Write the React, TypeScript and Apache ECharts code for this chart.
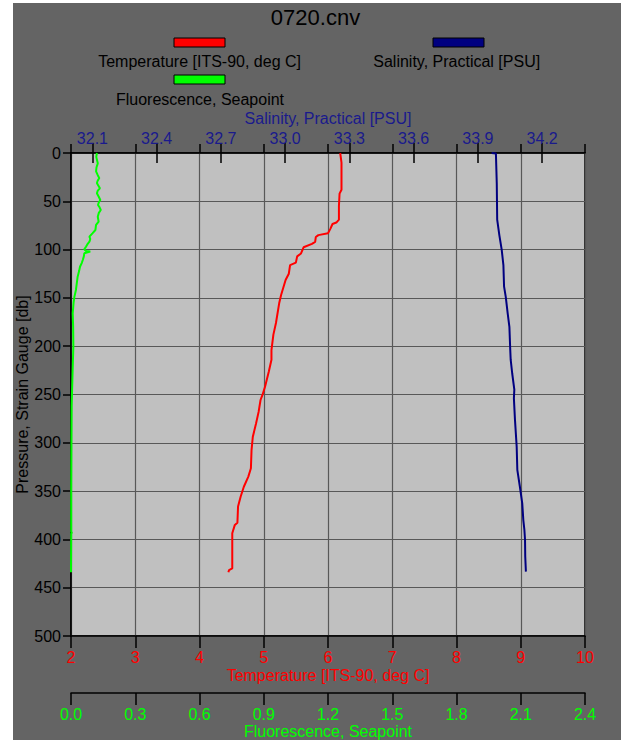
import React, { useEffect, useRef } from "react";
import * as echarts from "echarts";

const titleText = "0720.cnv";
const tempName = "Temperature [ITS-90, deg C]";
const salName = "Salinity, Practical [PSU]";
const fluorName = "Fluorescence, Seapoint";
const pressureName = "Pressure, Strain Gauge [db]";

const salTicks = [32.1, 32.4, 32.7, 33.0, 33.3, 33.6, 33.9, 34.2];

const tempPressure = [0, 10, 18, 38, 42, 55, 69, 72, 73.5, 78, 83, 85, 87, 92, 94, 97.6, 104, 107, 113.5, 116, 125, 131.5, 147, 155.6, 176, 188, 204, 214, 226, 242, 250.5, 255.7, 268, 280, 293.7, 307.5, 326.4, 335, 345.5, 355.8, 366, 382.7, 385, 393.7, 407.5, 430, 431.7, 434];
const tempValues = [6.19, 6.21, 6.21, 6.21, 6.18, 6.17, 6.17, 6.13, 6.07, 6.04, 6.0, 5.85, 5.81, 5.8, 5.75, 5.62, 5.58, 5.52, 5.5, 5.41, 5.39, 5.34, 5.27, 5.24, 5.19, 5.15, 5.12, 5.12, 5.08, 5.02, 4.98, 4.95, 4.92, 4.88, 4.83, 4.81, 4.8, 4.76, 4.69, 4.64, 4.6, 4.59, 4.55, 4.51, 4.51, 4.51, 4.46, 4.45];

const salPressure = [0, 0.5, 31, 69, 85, 100, 116, 138, 149, 166, 180, 204, 214, 228, 245, 254, 276, 304, 328, 345.5, 362.6, 380, 390, 400.6, 418, 433.4];
const salValues = [33.964, 33.984, 33.988, 33.99, 34.0, 34.011, 34.019, 34.022, 34.03, 34.039, 34.047, 34.051, 34.053, 34.06, 34.07, 34.068, 34.073, 34.081, 34.084, 34.096, 34.107, 34.112, 34.117, 34.12, 34.121, 34.124];

const fluorPressure = [0, 4, 10.7, 15, 19, 23, 26, 29, 31, 34, 36.6, 39, 41.7, 45, 48.7, 51, 53.8, 56, 59, 62, 66, 71, 74.5, 79.7, 83, 86.6, 89, 91.8, 94, 97, 99.7, 101.5, 102, 103.8, 107, 110.8, 114, 117.7, 122, 128, 135, 141.8, 148.7, 155, 166, 180, 200, 230, 262, 300, 350, 392, 393, 394, 434];
const fluorValues = [0.121, 0.118, 0.125, 0.119, 0.117, 0.125, 0.132, 0.124, 0.121, 0.128, 0.135, 0.125, 0.121, 0.129, 0.137, 0.13, 0.126, 0.133, 0.139, 0.13, 0.125, 0.129, 0.117, 0.114, 0.101, 0.086, 0.09, 0.086, 0.078, 0.07, 0.062, 0.07, 0.09, 0.062, 0.06, 0.055, 0.05, 0.042, 0.038, 0.031, 0.027, 0.023, 0.016, 0.012, 0.008, 0.01, 0.011, 0.007, 0.003, 0.002, 0.001, 0.001, 0.004, 0.001, 0.0];

const RED = "#ff0000";
const GREEN = "#00ff00";
const NAVY = "#000080";
const NAVY_TEXT = "#1a1a8c";
const GRIDLINE = "#585858";
const FONT = "'Liberation Sans', Arial, sans-serif";
const OX = 13;
const OY = 3;

export default function App() {
  const ref = useRef<HTMLDivElement>(null);
  useEffect(() => {
    if (!ref.current) return;
    const chart = echarts.init(ref.current, undefined, { renderer: "svg" });
    const pair = (xs: number[], ps: number[]) => xs.map((v, i) => [v, ps[i]]);
    const axisLine = { show: true, onZero: false, lineStyle: { color: "#000", width: 1.5 } };
    const tickStyle = { color: "#000", width: 1.5 };
    const option: any = {
      animation: false,
      backgroundColor: "#646464",
      textStyle: { fontFamily: FONT },
      grid: {
        left: 71 - OX,
        top: 153 - OY,
        width: 514,
        height: 483,
        containLabel: false,
        outerBoundsMode: "none",
        show: true,
        backgroundColor: "#c0c0c0",
        borderColor: "#000",
        borderWidth: 1.5,
      },
      xAxis: [
        {
          type: "value",
          position: "bottom",
          min: 2,
          max: 10,
          interval: 1,
          axisLine,
          axisTick: { show: true, inside: false, length: 12, lineStyle: tickStyle },
          axisLabel: { color: RED, fontSize: 16, margin: 13, fontFamily: FONT },
          splitLine: { show: true, lineStyle: { color: GRIDLINE, width: 1.2 } },
          name: tempName,
          nameLocation: "middle",
          nameGap: 31,
          nameMoveOverlap: false,
          nameTextStyle: { color: RED, fontSize: 16, fontFamily: FONT },
        },
        {
          type: "value",
          position: "bottom",
          offset: 57,
          min: 0,
          max: 2.4,
          interval: 0.3,
          axisLine,
          axisTick: { show: true, inside: false, length: 12, lineStyle: tickStyle },
          axisLabel: { color: GREEN, fontSize: 16, margin: 13, fontFamily: FONT, formatter: (v: number) => v.toFixed(1) },
          splitLine: { show: false },
          name: fluorName,
          nameLocation: "middle",
          nameGap: 30,
          nameMoveOverlap: false,
          nameTextStyle: { color: GREEN, fontSize: 16, fontFamily: FONT },
        },
        {
          type: "value",
          position: "bottom",
          offset: 57,
          min: 0,
          max: 2.4,
          interval: 0.3,
          axisLine: { show: false },
          axisTick: { show: true, inside: true, length: 9, lineStyle: tickStyle },
          axisLabel: { show: false },
          splitLine: { show: false },
        },
        {
          type: "value",
          position: "top",
          min: 32.0,
          max: 34.4,
          axisLine,
          axisTick: { show: true, inside: false, length: 10, customValues: salTicks, lineStyle: tickStyle },
          axisLabel: { color: NAVY_TEXT, fontSize: 16, margin: 7, fontFamily: FONT, customValues: salTicks, formatter: (v: number) => v.toFixed(1) },
          splitLine: { show: false },
          name: salName,
          nameLocation: "middle",
          nameGap: 27,
          nameMoveOverlap: false,
          nameTextStyle: { color: NAVY_TEXT, fontSize: 16, fontFamily: FONT },
        },
        {
          type: "value",
          position: "top",
          min: 32.0,
          max: 34.4,
          axisLine: { show: false },
          axisTick: { show: true, inside: true, length: 10, customValues: salTicks, lineStyle: tickStyle },
          axisLabel: { show: false, customValues: salTicks },
          splitLine: { show: false },
        },
      ],
      yAxis: [
        {
          type: "value",
          inverse: true,
          min: 0,
          max: 500,
          interval: 50,
          axisLine,
          axisTick: { show: true, inside: false, length: 8, lineStyle: tickStyle },
          axisLabel: { color: "#000", fontSize: 16, margin: 10, fontFamily: FONT },
          splitLine: { show: true, lineStyle: { color: GRIDLINE, width: 1.2 } },
          name: pressureName,
          nameLocation: "middle",
          nameGap: 41,
          nameMoveOverlap: false,
          nameTextStyle: { color: "#000", fontSize: 16, fontFamily: FONT },
        },
      ],
      series: [
        {
          type: "line",
          name: fluorName,
          xAxisIndex: 1,
          yAxisIndex: 0,
          data: pair(fluorValues, fluorPressure),
          showSymbol: false,
          lineStyle: { color: GREEN, width: 2 },
          z: 3,
        },
        {
          type: "line",
          name: tempName,
          xAxisIndex: 0,
          yAxisIndex: 0,
          data: pair(tempValues, tempPressure),
          showSymbol: false,
          lineStyle: { color: RED, width: 2 },
          z: 3,
        },
        {
          type: "line",
          name: salName,
          xAxisIndex: 3,
          yAxisIndex: 0,
          data: pair(salValues, salPressure),
          showSymbol: false,
          lineStyle: { color: NAVY, width: 2 },
          z: 3,
        },
      ],
      graphic: [
        {
          type: "text",
          x: 315.5 - OX,
          y: 17.5 - OY,
          style: { text: titleText, fill: "#000", font: `22px ${FONT}`, textAlign: "center", textVerticalAlign: "middle" },
        },
        { type: "rect", shape: { x: 174 - OX, y: 38 - OY, width: 51, height: 9 }, style: { fill: RED, stroke: "#000", lineWidth: 1 } },
        { type: "rect", shape: { x: 433 - OX, y: 38 - OY, width: 51, height: 9 }, style: { fill: NAVY, stroke: "#000", lineWidth: 1 } },
        { type: "rect", shape: { x: 174 - OX, y: 75 - OY, width: 51, height: 9 }, style: { fill: GREEN, stroke: "#000", lineWidth: 1 } },
        {
          type: "text",
          x: 199.6 - OX,
          y: 61.5 - OY,
          style: { text: tempName, fill: "#000", font: `16px ${FONT}`, textAlign: "center", textVerticalAlign: "middle" },
        },
        {
          type: "text",
          x: 456.7 - OX,
          y: 61.5 - OY,
          style: { text: salName, fill: "#000", font: `16px ${FONT}`, textAlign: "center", textVerticalAlign: "middle" },
        },
        {
          type: "text",
          x: 200 - OX,
          y: 99.3 - OY,
          style: { text: fluorName, fill: "#000", font: `16px ${FONT}`, textAlign: "center", textVerticalAlign: "middle" },
        },
      ],
    };
    chart.setOption(option);
    return () => chart.dispose();
  }, []);
  return (
    <div
      ref={ref}
      style={{ position: "absolute", left: OX, top: OY, width: 621 - OX, height: 740 - OY }}
    />
  );
}
